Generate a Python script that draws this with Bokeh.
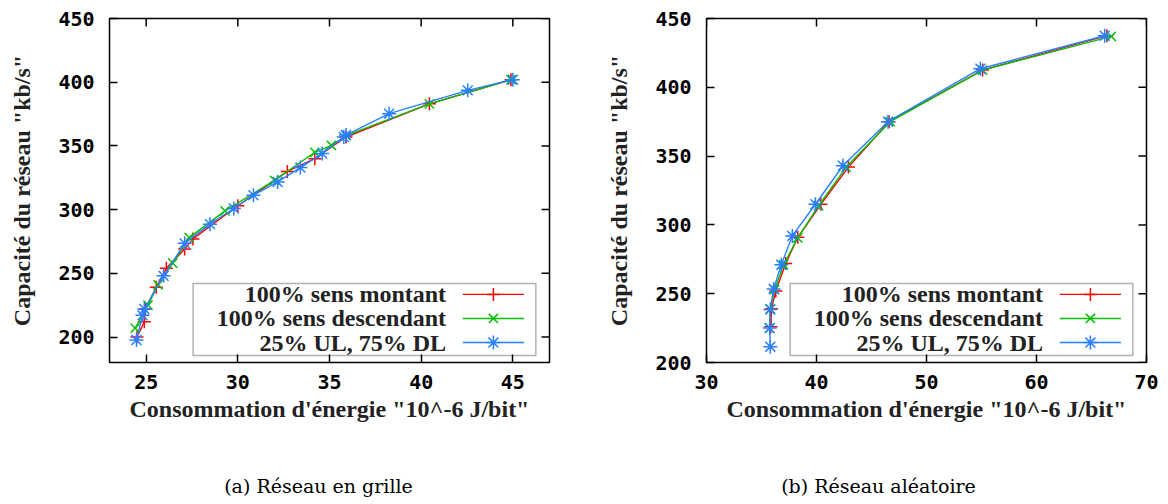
from bokeh.plotting import figure
from bokeh.models import Range1d, FixedTicker, BoxAnnotation, Label
from bokeh.layouts import row, column
from bokeh.embed import file_html
from bokeh.resources import INLINE

# ---------------- data : (a) Réseau en grille ----------------
a_ul_x = [24.5, 24.9, 24.95, 25.55, 26.1, 27.1, 27.55, 30.0, 32.7, 34.2, 35.9, 40.45, 44.9]
a_ul_y = [200, 212, 222, 239, 254, 269, 277, 303, 330, 340, 357, 383, 402]
a_dl_x = [24.4, 25.1, 25.65, 26.45, 27.35, 29.3, 32.0, 34.2, 35.1, 35.9, 40.45, 44.9]
a_dl_y = [207, 225, 241, 258, 278, 299, 323, 345, 350.5, 358, 383, 402]
a_mix_x = [24.47, 24.8, 24.9, 25.95, 27.1, 28.48, 29.78, 30.85, 32.17, 33.41, 34.6,
           35.78, 35.9, 38.25, 42.54, 45.0]
a_mix_y = [197.6, 217, 222, 248, 273.5, 288.6, 300.9, 311.3, 321.7, 333, 344,
           357, 358.5, 375.3, 393.6, 402]

# ---------------- data : (b) Réseau aléatoire ----------------
b_ul_x = [35.85, 35.9, 36.3, 37.2, 38.3, 40.4, 42.9, 46.6, 55.1, 66.4]
b_ul_y = [226, 239, 252, 272, 291, 315, 342, 375, 412.5, 437.5]
b_dl_x = [35.72, 35.8, 36.2, 37.0, 38.3, 40.2, 42.7, 46.7, 55.1, 66.8]
b_dl_y = [225, 239, 253, 271, 290.5, 314, 342, 375, 412.5, 437]
b_mix_x = [35.8, 35.75, 35.8, 36.1, 36.8, 37.8, 39.9, 42.4, 46.5, 54.9, 66.2]
b_mix_y = [211.5, 225, 238.5, 253.5, 271, 292, 315, 343, 375, 413.5, 437.5]

a_xticks = [25, 30, 35, 40, 45]
b_xticks = [30, 40, 50, 60, 70]
yticks = [200, 250, 300, 350, 400, 450]

series_names = ["100% sens montant", "100% sens descendant", "25% UL, 75% DL"]
series_colors = ["#ff0000", "#00c000", "#2a7fff"]
series_markers = ["cross", "x", "asterisk"]

x_title = "Consommation d'énergie \"10^-6 J/bit\""
y_title = "Capacité du réseau \"kb/s\""
captions = ["(a) Réseau en grille", "(b) Réseau aléatoire"]

H = 450
CAP_H = 50
FRAME_W = 440
FRAME_H = 344
TOP = 18
TICK_LEN = 8

TICK_FONT = "DejaVu Sans Mono"
SERIF = "Liberation Serif"
CAPTION_FONT = "DejaVu Serif"


def style_axis(ax):
    ax.axis_line_color = None
    ax.major_tick_in = TICK_LEN
    ax.major_tick_out = 0
    ax.major_tick_line_color = "black"
    ax.major_tick_line_width = 1.5
    ax.minor_tick_line_color = None
    ax.major_label_text_font = TICK_FONT
    ax.major_label_text_font_style = "bold"
    ax.major_label_text_font_size = "20px"
    ax.major_label_text_color = "black"
    ax.axis_label_text_font = SERIF
    ax.axis_label_text_font_style = "bold"
    ax.axis_label_text_font_size = "24px"
    ax.axis_label_text_color = "#222222"


def panel(xr, yr, xticks, data, width, bl):
    p = figure(width=width, height=H, x_range=Range1d(*xr), y_range=Range1d(*yr),
               output_backend="svg", toolbar_location=None,
               min_border_left=bl, min_border_right=width - bl - FRAME_W,
               min_border_top=TOP, min_border_bottom=H - TOP - FRAME_H)
    p.grid.visible = False
    p.outline_line_color = "black"
    p.outline_line_width = 1.5
    p.outline_line_alpha = 1.0

    xa = p.xaxis[0]
    ya = p.yaxis[0]
    xa.ticker = FixedTicker(ticks=xticks)
    ya.ticker = FixedTicker(ticks=yticks)
    style_axis(xa)
    style_axis(ya)
    xa.axis_label = x_title
    ya.axis_label = y_title
    xa.major_label_standoff = 12
    xa.axis_label_standoff = 4
    ya.major_label_standoff = 15
    ya.axis_label_standoff = 20

    x0, x1 = xr
    y0, y1 = yr
    dx = TICK_LEN * (x1 - x0) / FRAME_W
    dy = TICK_LEN * (y1 - y0) / FRAME_H
    # mirrored ticks on the top and right borders (gnuplot style)
    p.segment(x0=xticks, y0=[y1] * len(xticks), x1=xticks, y1=[y1 - dy] * len(xticks),
              line_color="black", line_width=1.5)
    p.segment(x0=[x1] * len(yticks), y0=yticks, x1=[x1 - dx] * len(yticks), y1=yticks,
              line_color="black", line_width=1.5)

    def fx(f):
        return x0 + f * (x1 - x0)

    def fy(f):
        return y0 + f * (y1 - y0)

    # legend box (gnuplot style: label on the left, sample on the right)
    p.add_layout(BoxAnnotation(left=fx(0.19), right=fx(0.969), bottom=fy(0.02), top=fy(0.23),
                               fill_color="white", fill_alpha=1.0, line_color="black",
                               line_width=1.5, level="underlay"))
    rows = [0.198, 0.128, 0.058]
    sizes = [13, 13, 14]
    for (sx, sy), name, col, mk, r, sz in zip(data, series_names, series_colors,
                                              series_markers, rows, sizes):
        p.line(sx, sy, line_color=col, line_width=1.4)
        p.scatter(sx, sy, marker=mk, size=sz, line_color=col, line_width=1.5)
        p.line([fx(0.803), fx(0.942)], [fy(r), fy(r)], line_color=col, line_width=1.4)
        p.scatter([fx(0.8725)], [fy(r)], marker=mk, size=sz, line_color=col, line_width=1.5)
        p.add_layout(Label(x=fx(0.765), y=fy(r), text=name, text_align="right",
                           text_baseline="middle", text_font=SERIF, text_font_style="bold",
                           text_font_size="24px", text_color="#222222"))
    return p


def caption_fig(width, text, cx):
    c = figure(width=width, height=CAP_H, x_range=Range1d(0, width), y_range=Range1d(0, CAP_H),
               output_backend="svg", toolbar_location=None,
               x_axis_type=None, y_axis_type=None, min_border=0)
    c.grid.visible = False
    c.outline_line_color = None
    c.add_layout(Label(x=cx, y=15, text=text, text_align="center", text_baseline="middle",
                       text_font=CAPTION_FONT, text_font_size="19px", text_color="black"))
    return c


W_A = 580
W_B = 586
pa = panel((23, 47), (180, 450), a_xticks,
           [(a_ul_x, a_ul_y), (a_dl_x, a_dl_y), (a_mix_x, a_mix_y)], W_A, 109)
pb = panel((30, 70), (200, 450), b_xticks,
           [(b_ul_x, b_ul_y), (b_dl_x, b_dl_y), (b_mix_x, b_mix_y)], W_B, 126)
ca = caption_fig(W_A, captions[0], 318)
cb = caption_fig(W_B, captions[1], 298)

layout = column(row(pa, pb), row(ca, cb))
open("out.html", "w").write(file_html(layout, INLINE))
